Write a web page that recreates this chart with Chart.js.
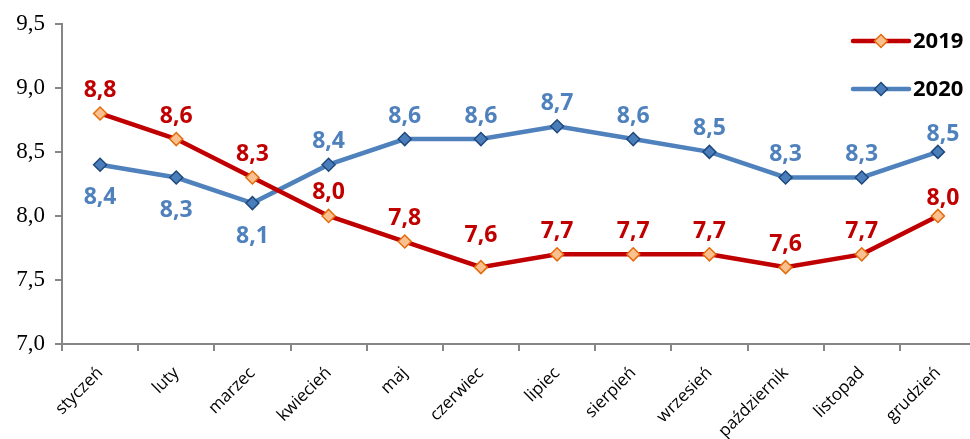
<!DOCTYPE html>
<html>
<head>
<meta charset="utf-8">
<script src="https://cdn.jsdelivr.net/npm/chart.js@4/dist/chart.umd.min.js"></script>
<style>
html,body{margin:0;padding:0;overflow:hidden;background:#fff;width:970px;height:439px;}
#wrap{position:relative;width:984px;height:439px;}
</style>
</head>
<body>
<div id="wrap"><canvas id="c"></canvas></div>
<script>
const months = ['styczeń','luty','marzec','kwiecień','maj','czerwiec','lipiec','sierpień','wrzesień','październik','listopad','grudzień'];
const values2019 = [8.8, 8.6, 8.3, 8.0, 7.8, 7.6, 7.7, 7.7, 7.7, 7.6, 7.7, 8.0];
const values2020 = [8.4, 8.3, 8.1, 8.4, 8.6, 8.6, 8.7, 8.6, 8.5, 8.3, 8.3, 8.5];
const yMin = 7.0, yMax = 9.5, yStep = 0.5;

// label placement (styling): -1 above, +1 below
const labelSide2019 = [-1,-1,-1,-1,-1,-1,-1,-1,-1,-1,-1,-1];
const labelSide2020 = [1,1,1,-1,-1,-1,-1,-1,-1,-1,-1,-1];

const fmt = v => v.toFixed(1).replace('.', ',');

const labelPlugin = {
  id: 'valueLabels',
  afterDatasetsDraw(chart) {
    const ctx = chart.ctx;
    ctx.save();
    ctx.font = 'bold 23px "Open Sans"';
    ctx.textAlign = 'center';
    ctx.textBaseline = 'middle';
    chart.data.datasets.forEach((ds, di) => {
      const meta = chart.getDatasetMeta(di);
      const sides = di === 0 ? labelSide2019 : labelSide2020;
      ctx.fillStyle = ds.labelColor;
      meta.data.forEach((pt, i) => {
        const last = i === ds.data.length - 1;
        let dy = sides[i] < 0 ? -23 : 33;
        if (last) dy = sides[i] < 0 ? -17 : 17;
        if (di === 0 && i === 5) dy = -32;
        const dx = last ? 5 : 0;
        ctx.fillText(fmt(ds.data[i]), pt.x + dx, pt.y + dy);
      });
    });
    ctx.restore();
  }
};

const legendPlugin = {
  id: 'customLegend',
  afterDraw(chart) {
    const ctx = chart.ctx;
    ctx.save();
    const x0 = 853, x1 = 909, ys = [41, 89];
    chart.data.datasets.forEach((ds, di) => {
      const y = ys[di];
      ctx.strokeStyle = ds.borderColor;
      ctx.lineWidth = ds.borderWidth;
      ctx.lineCap = 'round';
      ctx.beginPath(); ctx.moveTo(x0, y); ctx.lineTo(x1, y); ctx.stroke();
      const mx = (x0 + x1) / 2, r = 6.5;
      ctx.beginPath();
      ctx.moveTo(mx, y - r); ctx.lineTo(mx + r, y); ctx.lineTo(mx, y + r); ctx.lineTo(mx - r, y); ctx.closePath();
      ctx.fillStyle = ds.pointBackgroundColor; ctx.fill();
      ctx.lineWidth = ds.pointBorderWidth; ctx.strokeStyle = ds.pointBorderColor; ctx.stroke();
      ctx.fillStyle = '#000';
      ctx.font = 'bold 22px "Open Sans"';
      ctx.textAlign = 'left'; ctx.textBaseline = 'middle';
      ctx.fillText(ds.label, 913, y + 1);
    });
    ctx.restore();
  }
};

new Chart(document.getElementById('c'), {
  type: 'line',
  data: {
    labels: months,
    datasets: [
      {
        label: '2019', data: values2019,
        borderColor: '#C00000', borderWidth: 4.5,
        pointStyle: 'rectRot', pointRadius: 6.5, pointHoverRadius: 6.5,
        pointBackgroundColor: '#FAC090', pointBorderColor: '#E46C0A', pointBorderWidth: 1.5,
        labelColor: '#C00000', tension: 0
      },
      {
        label: '2020', data: values2020,
        borderColor: '#4F81BD', borderWidth: 4.5,
        pointStyle: 'rectRot', pointRadius: 6.5, pointHoverRadius: 6.5,
        pointBackgroundColor: '#4A7EBB', pointBorderColor: '#1F497D', pointBorderWidth: 1.5,
        labelColor: '#4F81BD', tension: 0
      }
    ]
  },
  options: {
    responsive: true, maintainAspectRatio: false, animation: false,
    events: [],
    layout: { padding: { top: 23, right: 2, left: 0, bottom: 0 } },
    plugins: { legend: { display: false }, tooltip: { enabled: false } },
    scales: {
      x: {
        offset: true,
        grid: { display: true, drawOnChartArea: false, drawTicks: true, tickLength: 7, color: '#868686', lineWidth: 2, offset: true },
        border: { display: true, color: '#868686', width: 2 },
        ticks: { color: '#000', font: { family: '"Open Sans"', size: 17 }, minRotation: 45, maxRotation: 45, autoSkip: false, padding: 12 },
        afterFit(s) { s.height = 95; }
      },
      y: {
        min: yMin, max: yMax,
        grid: { display: true, drawOnChartArea: false, drawTicks: true, tickLength: 7, color: '#868686', lineWidth: 2 },
        border: { display: true, color: '#868686', width: 2 },
        ticks: { stepSize: yStep, color: '#000', font: { family: '"Liberation Serif"', size: 23 }, padding: 10, callback: v => fmt(v) },
        afterFit(s) { s.width = 62; }
      }
    }
  },
  plugins: [labelPlugin, legendPlugin]
});
</script>
</body>
</html>
